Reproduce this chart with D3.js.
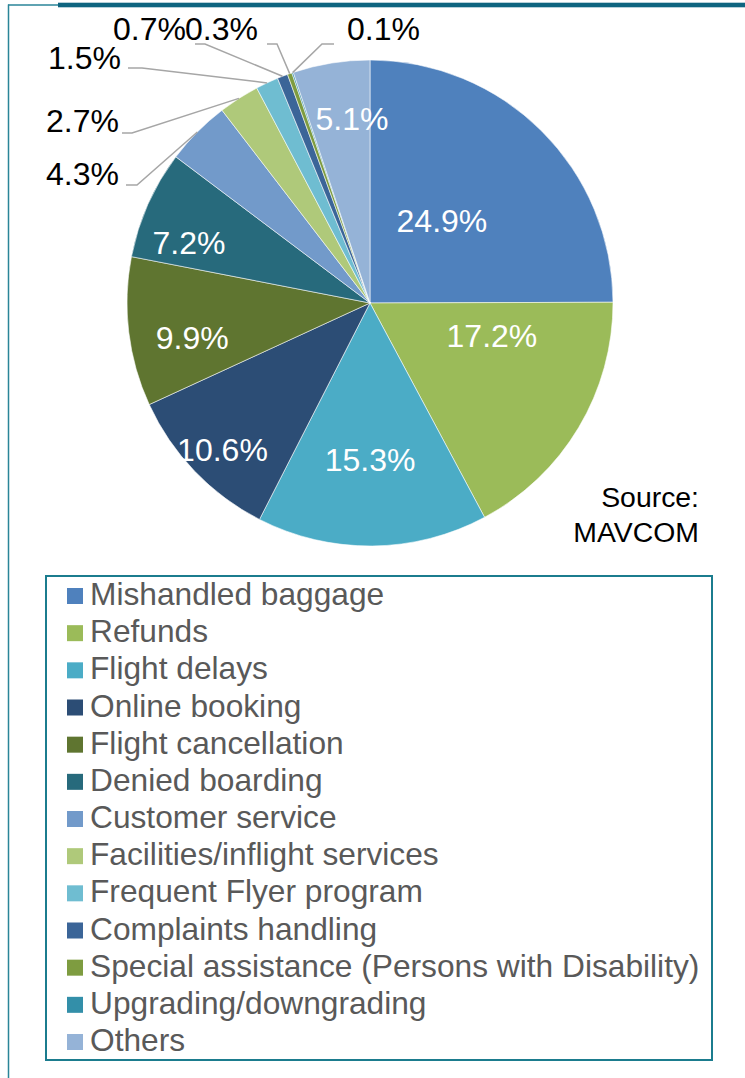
<!DOCTYPE html>
<html>
<head>
<meta charset="utf-8">
<script src="https://cdn.jsdelivr.net/npm/d3@7"></script>
<style>
  html, body { margin: 0; padding: 0; background: #fff; }
  svg { display: block; }
  text { font-family: "Liberation Sans", Arial, sans-serif; }
</style>
</head>
<body>
<div id="chart"></div>
<script>
// ---- data ----
const categories = [
  "Mishandled baggage", "Refunds", "Flight delays", "Online booking",
  "Flight cancellation", "Denied boarding", "Customer service",
  "Facilities/inflight services", "Frequent Flyer program",
  "Complaints handling", "Special assistance (Persons with Disability)",
  "Upgrading/downgrading", "Others"
];
const values = [24.9, 17.2, 15.3, 10.6, 9.9, 7.2, 4.3, 2.7, 1.5, 0.7, 0.3, 0.1, 5.1];
const valueLabels = ["24.9%", "17.2%", "15.3%", "10.6%", "9.9%", "7.2%", "4.3%", "2.7%", "1.5%", "0.7%", "0.3%", "0.1%", "5.1%"];
const colors = [
  "#4F81BD", "#9BBB59", "#4BACC6", "#2C4D75", "#5F7530", "#276A7C",
  "#729ACA", "#AFC97A", "#6FBDD1", "#3B6598", "#7E9C40", "#338FA9", "#95B3D7"
];
const sourceLines = ["Source:", "MAVCOM"];

// ---- layout (label placement only) ----
// inside labels: [angle offset from slice middle (deg), radial fraction]
const insidePlacement = {
  0: [-4, 0.452], 1: [-16, 0.519], 2: [0.5, 0.646], 3: [-1, 0.856],
  4: [-4, 0.745], 5: [-5.4, 0.786], 12: [3.6, 0.761]
};
// outside labels: text anchor point, leader attach point, elbow x
const outsidePlacement = {
  6:  { x: 119, y: 185, anchor: "end",   ax: 126, ay: 185, ex: 137 },
  7:  { x: 119, y: 132, anchor: "end",   ax: 122, ay: 133, ex: 132 },
  8:  { x: 121, y: 69,  anchor: "end",   ax: 128, ay: 68,  ex: 142 },
  9:  { x: 186, y: 40,  anchor: "end",   ax: 195, ay: 44,  ex: 205 },
  10: { x: 258, y: 40,  anchor: "end",   ax: 267, ay: 44,  ex: 277 },
  11: { x: 347, y: 40,  anchor: "start", ax: 334, ay: 44,  ex: 322 }
};

const W = 745, H = 1078;
const cx = 370, cy = 303, R = 243;

const svg = d3.select("#chart").append("svg")
  .attr("width", W).attr("height", H);

// frame
const frameColor = "#2A8598";
svg.append("line").attr("x1", 8.5).attr("x2", 8.5).attr("y1", 4.5).attr("y2", H)
  .attr("stroke", frameColor).attr("stroke-width", 1.5);
svg.append("line").attr("x1", 8).attr("x2", 60).attr("y1", 5).attr("y2", 5)
  .attr("stroke", frameColor).attr("stroke-width", 1.5);
svg.append("rect").attr("x", 58).attr("y", 2.7).attr("width", W - 58).attr("height", 4.6)
  .attr("fill", "#0E6580");

// pie
const pie = d3.pie().sort(null).value(d => d);
const arcs = pie(values);
const arc = d3.arc().innerRadius(0).outerRadius(R);

const g = svg.append("g").attr("transform", `translate(${cx},${cy})`);
g.selectAll("path.slice").data(arcs).enter().append("path")
  .attr("class", "slice")
  .attr("d", arc)
  .attr("fill", (d, i) => colors[i])
  .attr("stroke", "#ffffff")
  .attr("stroke-width", 0.7)
  .attr("stroke-opacity", 0.8);

// inside labels
Object.keys(insidePlacement).forEach(k => {
  const i = +k;
  const a = arcs[i];
  const [off, frac] = insidePlacement[i];
  const ang = (a.startAngle + a.endAngle) / 2 + off * Math.PI / 180;
  const rr = frac * R;
  const x = Math.sin(ang) * rr, y = -Math.cos(ang) * rr;
  g.append("text")
    .attr("x", x).attr("y", y).attr("dy", "0.36em")
    .attr("text-anchor", "middle")
    .attr("fill", "#ffffff")
    .attr("font-size", "32px")
    .text(valueLabels[i]);
});

// outside labels with leader lines
Object.keys(outsidePlacement).forEach(k => {
  const i = +k;
  const a = arcs[i];
  const p = outsidePlacement[i];
  const ang = (a.startAngle + a.endAngle) / 2;
  const edgeX = cx + Math.sin(ang) * R, edgeY = cy - Math.cos(ang) * R;
  svg.append("polyline")
    .attr("points", `${p.ax},${p.ay} ${p.ex},${p.ay} ${edgeX},${edgeY}`)
    .attr("fill", "none")
    .attr("stroke", "#A6A6A6")
    .attr("stroke-width", 1.5);
  svg.append("text")
    .attr("x", p.x).attr("y", p.y)
    .attr("text-anchor", p.anchor)
    .attr("fill", "#000000")
    .attr("font-size", "32px")
    .text(valueLabels[i]);
});

// source
svg.selectAll("text.source").data(sourceLines).enter().append("text")
  .attr("class", "source")
  .attr("x", 699)
  .attr("y", (d, i) => 507 + i * 35)
  .attr("text-anchor", "end")
  .attr("fill", "#000000")
  .attr("font-size", "28.4px")
  .text(d => d);

// legend
svg.append("rect")
  .attr("x", 46).attr("y", 576).attr("width", 666).attr("height", 484)
  .attr("fill", "none").attr("stroke", "#1B7C8E").attr("stroke-width", 2);

const legendY = d3.scalePoint().domain(categories).range([605, 1051]);
const lg = svg.selectAll("g.leg").data(categories).enter().append("g")
  .attr("class", "leg")
  .attr("transform", d => `translate(0,${legendY(d)})`);
lg.append("rect")
  .attr("x", 67).attr("y", -17).attr("width", 16).attr("height", 16)
  .attr("fill", (d, i) => colors[i]);
lg.append("text")
  .attr("x", 90).attr("y", 0)
  .attr("fill", "#595959")
  .attr("font-size", "31.7px")
  .text(d => d);
</script>
</body>
</html>
